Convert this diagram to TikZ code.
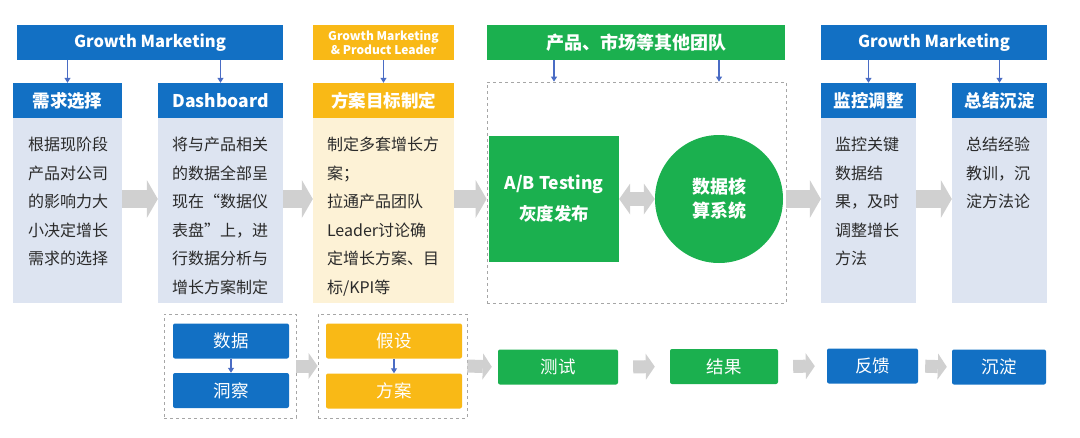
\documentclass[tikz,border=0pt]{standalone}
\usepackage{fontspec}
\setmainfont{Noto Sans CJK SC}
\usetikzlibrary{arrows.meta,positioning}

\definecolor{gmblue}{HTML}{1270C4}
\definecolor{pmyellow}{HTML}{F9B916}
\definecolor{abgreen}{HTML}{1BB04F}
\definecolor{bodyblue}{HTML}{DDE4F1}
\definecolor{bodyyellow}{HTML}{FDF2D6}
\definecolor{flowgray}{HTML}{D0D0D0}
\definecolor{dropblue}{HTML}{4A6CC4}
\definecolor{txtgray}{HTML}{2A2A2A}

\begin{document}
\begin{tikzpicture}[x=1pt, y=-1pt,
  banner/.style={fill=#1, text=white, inner sep=0pt, minimum height=35pt,
    font=\bfseries\fontsize{16.5}{19}\selectfont},
  hdr/.style={fill=#1, text=white, inner sep=0pt, minimum height=35pt,
    font=\bfseries\fontsize{17.5}{20}\selectfont},
  body/.style={fill=#1, inner sep=0pt, minimum height=185pt},
  txt/.style={anchor=north west, inner sep=0pt, align=left, text=txtgray,
    font=\fontsize{16}{28.5}\selectfont},
  lab/.style={draw=gray!70, dashed, line width=0.8pt, inner sep=0pt},
  tag/.style={fill=#1, text=white, rounded corners=2pt, inner sep=0pt,
    minimum height=35pt, font=\fontsize{17.5}{19}\selectfont},
  drop/.style={dropblue, line width=1.1pt, -{Triangle[length=5pt,width=6pt]}},
  feed/.style={flowgray, line width=18pt,
    -{Triangle[length=11pt,width=38pt,line width=0pt]}},
  feedsm/.style={flowgray, line width=13pt,
    -{Triangle[length=9pt,width=26pt,line width=0pt]}},
  feedboth/.style={flowgray, line width=14pt,
    {Triangle[length=11pt,width=31pt,line width=0pt]}-{Triangle[length=11pt,width=31pt,line width=0pt]}}
]
\useasboundingbox (0,0) rectangle (1080,437);

% --- banners ---
\node[banner=gmblue, minimum width=266pt] (gm1) at (150,42.5) {Growth Marketing};
\node[banner=pmyellow, minimum width=141pt, align=center,
  font=\bfseries\fontsize{12}{14}\selectfont] (lead) at (383.5,42.5)
  {Growth Marketing\\\& Product Leader};
\node[banner=abgreen, minimum width=298pt,
  font=\bfseries\fontsize{18}{20}\selectfont] (team) at (636,42.5) {产品、市场等其他团队};
\node[banner=gmblue, minimum width=226pt] (gm2) at (934,42.5) {Growth Marketing};

% --- step headers ---
\node[hdr=gmblue, minimum width=109pt] (h1) at (67.5,100.5) {需求选择};
\node[hdr=gmblue, minimum width=125pt] (h2) at (220.5,100.5) {Dashboard};
\node[hdr=pmyellow, minimum width=141pt] (h3) at (383.5,100.5) {方案目标制定};
\node[hdr=gmblue, minimum width=95pt] (h4) at (868.5,100.5) {监控调整};
\node[hdr=gmblue, minimum width=95pt] (h5) at (999.5,100.5) {总结沉淀};

% --- step bodies ---
\node[body=bodyblue, minimum width=109pt, below=0pt of h1] (b1) {};
\node[body=bodyblue, minimum width=125pt, below=0pt of h2] (b2) {};
\node[body=bodyyellow, minimum width=141pt, below=0pt of h3] (b3) {};
\node[body=bodyblue, minimum width=95pt, below=0pt of h4] (b4) {};
\node[body=bodyblue, minimum width=95pt, below=0pt of h5] (b5) {};

\node[txt] (t1) at ([xshift=15pt,yshift=-19pt]b1.north west)
  {根据现阶段\\产品对公司\\的影响力大\\小决定增长\\需求的选择};
\node[txt] (t2) at ([xshift=14pt,yshift=-19pt]b2.north west)
  {将与产品相关\\的数据全部呈\\现在“数据仪\\表盘”上，进\\行数据分析与\\增长方案制定};
\node[txt] (t3) at ([xshift=14pt,yshift=-19pt]b3.north west)
  {制定多套增长方\\案；\\拉通产品团队\\Leader讨论确\\定增长方案、目\\标/KPI等};
\node[txt] (t4) at ([xshift=14pt,yshift=-19pt]b4.north west)
  {监控关键\\数据结\\果，及时\\调整增长\\方法};
\node[txt] (t5) at ([xshift=14pt,yshift=-19pt]b5.north west)
  {总结经验\\教训，沉\\淀方法论};

% --- testing area ---
\node[lab, minimum width=299pt, minimum height=221pt] (area) at (636.5,192.5) {};
\node[fill=abgreen, text=white, minimum width=130pt, minimum height=126pt,
  inner sep=0pt, align=center, font=\bfseries\fontsize{17.5}{31}\selectfont]
  (ab) at (554,199) {A/B Testing\\灰度发布};
\node[circle, fill=abgreen, text=white, minimum size=128pt, inner sep=0pt,
  align=center, font=\bfseries\fontsize{18}{24}\selectfont]
  (sys) at (719,199) {数据核\\算系统};

% --- owners to steps ---
\draw[drop] (h1.north |- gm1.south) -- (h1.north);
\draw[drop] (h2.north |- gm1.south) -- (h2.north);
\draw[drop] (h3.north |- lead.south) -- (h3.north);
\draw[drop] (ab.north |- team.south) -- (ab.north |- area.north);
\draw[drop] (sys.north |- team.south) -- (sys.north |- area.north);
\draw[drop] (h4.north |- gm2.south) -- (h4.north);
\draw[drop] (h5.north |- gm2.south) -- (h5.north);

% --- step flow ---
\draw[feed] (b1.east |- ab.center) -- (b2.west |- ab.center);
\draw[feed] (b2.east |- ab.center) -- (b3.west |- ab.center);
\draw[feed] (b3.east |- ab.center) -- (area.west |- ab.center);
\draw[feedboth] (ab.east) -- (sys.west);
\draw[feed] (area.east |- ab.center) -- (b4.west |- ab.center);
\draw[feed] (b4.east |- ab.center) -- (b5.west |- ab.center);

% --- loop row ---
\node[lab, minimum width=132pt, minimum height=104pt] (grp1) at (230,366) {};
\node[tag=gmblue, minimum width=116pt] (data) at (231,341) {数据};
\node[tag=gmblue, minimum width=116pt] (ins) at (231,390.5) {洞察};
\node[lab, minimum width=149pt, minimum height=104pt] (grp2) at (392.5,366) {};
\node[tag=pmyellow, minimum width=136pt] (hyp) at (394,341) {假设};
\node[tag=pmyellow, minimum width=136pt] (plan) at (394,391) {方案};
\node[tag=abgreen, minimum width=120pt] (test) at (558,367) {测试};
\node[tag=abgreen, minimum width=108pt] (res) at (724,366.5) {结果};
\node[tag=gmblue, minimum width=91pt] (fb) at (872.5,366) {反馈};
\node[tag=gmblue, minimum width=94pt] (dep) at (999,367) {沉淀};

\draw[drop] (data) -- (ins);
\draw[drop] (hyp) -- (plan);

\draw[feedsm] (grp1.east) -- (grp2.west);
\draw[feedsm, shorten >=6pt] (grp2.east) -- (test.west);
\draw[feedsm, shorten <=15pt, shorten >=15pt] (test.east) -- (res.west);
\draw[feedsm, shorten <=15pt, shorten >=12pt] (res.east) -- (fb.west);
\draw[feedsm, shorten <=7pt, shorten >=5pt] (fb.east) -- (dep.west);

\end{tikzpicture}
\end{document}
